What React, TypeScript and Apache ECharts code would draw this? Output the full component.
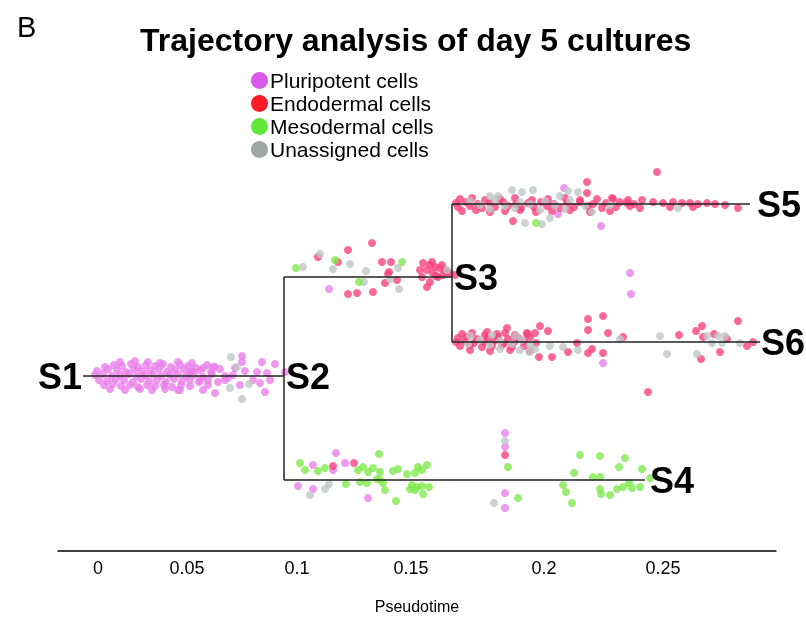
import React, { useEffect, useRef } from "react";
import * as echarts from "echarts";

// Categories
const seriesNames = ["Pluripotent cells", "Endodermal cells", "Mesodermal cells", "Unassigned cells"];
const pointColors = ["#ea7fea", "#f8427e", "#7fe84c", "#bfc5c5"];
const legendColors = ["#d85ae8", "#fa1c24", "#5ee83a", "#9ea6a6"];

// X axis: tree position; tick labels (pseudotime) at their drawn positions
const xTickValues = [0, 89, 199, 313, 446, 565];
const xTickLabels = ["0", "0.05", "0.1", "0.15", "0.2", "0.25"];

// Cells: [tree position, vertical position]
const pluripotentCells: number[][] = [
  [7, 184], [16, 186], [24, 185], [33, 187], [40, 184], [48, 186], [57, 185], [65, 187], [73, 184], [82, 186], [90, 185], [98, 183], [109, 186],
  [-1, 180], [10, 182], [19, 181], [28, 179], [36, 182], [44, 180], [52, 181], [61, 182], [69, 179], [77, 181], [86, 182], [94, 180], [102, 181], [113, 179], [122, 182],
  [-3, 176], [5, 177], [14, 175], [22, 176], [31, 177], [39, 175], [47, 176], [55, 177], [63, 175], [72, 176], [80, 177], [88, 175], [96, 176], [105, 174], [114, 177], [127, 175],
  [1, 171], [9, 170], [18, 172], [26, 171], [35, 169], [43, 172], [51, 170], [59, 171], [68, 169], [76, 172], [84, 170], [92, 171], [101, 169], [110, 171],
  [6, 166], [15, 167], [23, 165], [32, 166], [40, 164], [49, 166], [57, 165], [66, 166], [74, 164], [83, 166], [92, 165],
  [12, 162], [27, 161], [42, 162], [54, 161], [67, 162], [80, 161],
  [22, 189], [37, 190], [50, 189], [62, 188], [80, 189], [94, 188],
  [105, 183], [117, 184], [105, 161], [117, 158], [127, 171], [82, 161], [144, 195], [144, 189], [164, 189], [177, 187], [187, 179],
  [169, 178], [159, 179], [147, 180], [155, 171], [162, 168], [167, 159], [135, 176], [130, 173], [120, 169], [102, 171], [110, 166],
  [115, 184], [137, 183], [92, 179], [142, 166], [172, 171],
  [231, 262], [466, 363], [460, 337], [503, 325], [532, 278], [533, 257], [505, 188],
  [200, 65], [215, 86], [238, 98], [247, 88], [235, 81], [215, 62], [270, 53], [407, 118], [407, 104], [407, 58], [407, 43],
];

const endodermalCells: number[][] = [
  // S2 -> S3 branch
  [220, 294], [250, 301], [274, 308], [240, 289], [284, 289], [293, 289], [291, 279], [290, 277], [299, 271], [287, 268], [250, 257], [259, 258], [275, 259],
  [325, 288], [332, 286], [337, 284], [342, 283], [347, 281], [352, 278], [329, 281], [335, 278], [340, 274], [324, 274], [332, 269], [329, 264],
  [338, 275], [345, 276], [349, 279], [344, 286], [334, 289], [322, 281], [357, 276],
  // S3 -> S5 branch
  [362, 352], [374, 353], [387, 351], [402, 352], [417, 353], [434, 351], [450, 352], [467, 353], [482, 351], [499, 352], [514, 353], [530, 351],
  [358, 348], [368, 349], [380, 347], [392, 348], [405, 349], [418, 347], [430, 348], [443, 349], [456, 347], [469, 348], [482, 349], [495, 347], [508, 348], [522, 349], [536, 347],
  [360, 344], [372, 345], [384, 343], [397, 344], [410, 345], [423, 343], [436, 344], [449, 345], [462, 343], [476, 344], [490, 345], [504, 343], [518, 344], [532, 345],
  [364, 340], [378, 341], [392, 339], [407, 340], [422, 341], [438, 339], [454, 340], [472, 341], [492, 339], [512, 340],
  [559, 379], [489, 369], [489, 358], [415, 330],
  [555, 349], [565, 348], [575, 349], [584, 348], [592, 348], [600, 347], [609, 348], [617, 347], [627, 346], [640, 343], [544, 351], [529, 348], [515, 352], [542, 343], [572, 344], [595, 344],
  // S3 -> S6 branch
  [364, 217], [374, 218], [387, 216], [399, 217], [407, 218], [417, 216], [429, 217], [437, 218],
  [360, 213], [369, 214], [379, 212], [390, 213], [400, 214], [410, 212], [420, 213], [432, 214],
  [358, 209], [367, 210], [376, 208], [386, 209], [396, 210], [406, 208], [416, 209], [426, 210], [438, 208],
  [362, 205], [372, 206], [384, 204], [394, 205], [404, 206], [414, 204], [426, 205],
  [372, 201], [392, 200], [412, 201], [432, 200],
  [490, 232], [505, 235], [490, 221], [510, 218], [525, 214], [442, 225], [450, 220], [409, 223], [389, 219], [429, 218], [479, 208], [470, 199],
  [490, 198], [494, 202], [441, 194], [454, 194], [505, 198], [550, 159], [581, 216], [604, 225], [598, 220], [640, 230], [616, 217], [629, 212],
  [655, 209], [649, 205], [622, 199], [603, 192], [605, 214],
  // S2 -> S4 branch
  [235, 85], [256, 88], [407, 96],
];

const mesodermalCells: number[][] = [
  [198, 283], [237, 291], [304, 289], [261, 269],
  [438, 328],
  [202, 88], [207, 81], [220, 80], [227, 83], [248, 67], [260, 81], [265, 84], [270, 79], [275, 83], [282, 79], [281, 97], [262, 69], [269, 68],
  [279, 72], [285, 68], [287, 61], [298, 50], [295, 80], [300, 82], [309, 77], [317, 78], [320, 84], [329, 86], [324, 81], [314, 66], [312, 62],
  [319, 64], [324, 65], [331, 64], [325, 57], [282, 71], [317, 61],
  [410, 84], [420, 53],
  [482, 96], [502, 95], [527, 93], [476, 78], [495, 74], [502, 74], [521, 84], [544, 82], [465, 66], [468, 59], [474, 48], [502, 62], [503, 57],
  [512, 56], [519, 62], [525, 64], [531, 68], [534, 63], [542, 64], [552, 73],
];

const unassignedCells: number[][] = [
  [133, 194], [139, 184], [132, 163], [144, 152], [151, 167],
  [205, 284], [222, 297], [252, 287], [235, 282], [268, 280], [300, 283], [292, 272], [266, 269], [301, 262], [349, 281],
  [372, 350], [397, 351], [422, 349], [447, 350], [472, 351], [382, 346], [407, 345], [432, 347], [457, 346], [487, 345], [512, 346],
  [392, 342], [417, 343], [442, 341], [467, 342], [400, 355], [462, 355],
  [470, 360], [480, 359], [414, 361], [424, 359], [435, 361], [392, 355], [452, 333], [444, 327], [427, 328], [494, 339], [580, 343],
  [372, 215], [394, 216], [418, 215], [382, 211], [402, 210], [424, 211], [370, 207], [392, 206], [414, 207], [432, 206], [402, 202], [422, 201], [437, 202],
  [522, 212], [562, 215], [569, 197], [599, 197], [480, 201], [465, 204], [452, 205], [431, 199], [609, 215], [620, 215], [627, 215], [614, 208], [624, 208], [642, 208],
  [212, 56], [227, 62], [231, 67], [407, 110], [396, 48],
];

// Trajectory tree
const treeSegments: number[][][] = [
  [[-15, 175], [186, 175]],
  [[186, 274], [186, 71]],
  [[186, 274], [354, 274]],
  [[186, 71], [547, 71]],
  [[354, 347], [354, 209]],
  [[354, 347], [652, 347]],
  [[354, 209], [662, 209]],
];

const nodeNames = ["S1", "S2", "S3", "S4", "S5", "S6"];
const nodePositions: number[][] = [[-15, 175], [186, 175], [354, 274], [547, 71], [652, 347], [662, 209]];
const nodeLabelSide = ["left", "right", "right", "right", "right", "right"];
const nodeLabelGap = [1, 2, 2, 5, 7, 1];

const FONT = "'Liberation Sans', Arial, Helvetica, sans-serif";

export default function App() {
  const ref = useRef<HTMLDivElement>(null);
  useEffect(() => {
    if (!ref.current) return;
    const chart = echarts.init(ref.current, undefined, { renderer: "svg" });
    const cellSets = [pluripotentCells, endodermalCells, mesodermalCells, unassignedCells];
    const drawOrder = [0, 1, 3, 2];
    const scatterSeries = drawOrder.map((i) => ({
      name: seriesNames[i],
      type: "scatter",
      data: cellSets[i],
      symbolSize: 8,
      itemStyle: { color: pointColors[i], opacity: 0.8 },
      z: 2,
    }));
    chart.setOption({
      animation: false,
      textStyle: { fontFamily: FONT },
      title: [
        { text: "B", left: 12, top: 7, textStyle: { fontSize: 29, fontWeight: "normal", color: "#000", fontFamily: FONT } },
        { text: "Trajectory analysis of day 5 cultures", left: 135, top: 19, textStyle: { fontSize: 32, fontWeight: "bold", color: "#000", fontFamily: FONT } },
      ],
      legend: {
        orient: "vertical",
        left: 246,
        top: 65,
        itemWidth: 17,
        itemHeight: 17,
        itemGap: 2,
        icon: "circle",
        textStyle: { fontSize: 21, color: "#000", fontFamily: FONT, padding: [0, 0, 0, -3] },
        data: seriesNames.map((n, i) => ({ name: n, itemStyle: { color: legendColors[i], opacity: 1 } })),
      },
      grid: { left: 58, right: 30, top: 160, bottom: 71 },
      xAxis: {
        type: "value",
        min: -40,
        max: 678,
        name: "Pseudotime",
        nameLocation: "middle",
        nameGap: 47,
        nameTextStyle: { fontSize: 16, color: "#000", fontFamily: FONT },
        axisLine: { show: true, lineStyle: { color: "#000", width: 1.5 } },
        axisTick: { show: false },
        splitLine: { show: false },
        axisLabel: {
          customValues: xTickValues,
          formatter: (v: number) => {
            const idx = xTickValues.indexOf(Math.round(v));
            return idx >= 0 ? xTickLabels[idx] : "";
          },
          fontSize: 18,
          color: "#000",
          margin: 8,
          fontFamily: FONT,
        },
      },
      yAxis: {
        type: "value",
        min: 0,
        max: 391,
        show: false,
        splitLine: { show: false },
      },
      series: [
        ...scatterSeries,
        {
          type: "lines",
          coordinateSystem: "cartesian2d",
          data: treeSegments.map((c) => ({ coords: c })),
          lineStyle: { color: "#222", width: 1.5, opacity: 1 },
          silent: true,
          z: 3,
        },
        {
          type: "scatter",
          symbolSize: 0,
          itemStyle: { color: "#000", opacity: 1 },
          silent: true,
          data: nodeNames.map((n, i) => ({
            name: n,
            value: nodePositions[i],
            label: { position: nodeLabelSide[i], distance: nodeLabelGap[i] },
          })),
          label: {
            show: true,
            formatter: "{b}",
            fontSize: 36,
            fontWeight: "bold",
            color: "#000",
            opacity: 1,
            fontFamily: FONT,
          },
          z: 4,
        },
      ],
    });
    return () => chart.dispose();
  }, []);
  return <div ref={ref} style={{ position: "fixed", left: 0, top: 0, width: 806, height: 622 }} />;
}
